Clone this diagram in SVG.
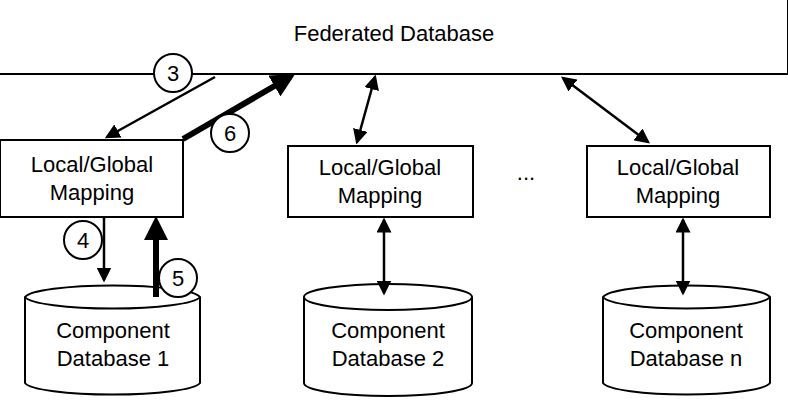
<svg xmlns="http://www.w3.org/2000/svg" width="788" height="401" viewBox="0 0 788 401">
<style>
text{font-family:"Liberation Sans",Arial,sans-serif;font-size:22px;fill:#000;text-anchor:middle}
.b{fill:#fff;stroke:#000;stroke-width:2}
.c{stroke:#000;stroke-width:2.5;fill:none}
.t{stroke:#000;stroke-width:6;fill:none}
.n{fill:#fff;stroke:#000;stroke-width:2}
</style>
<defs>
<marker id="a" markerWidth="6" markerHeight="6" refX="5" refY="3" orient="auto" markerUnits="strokeWidth"><path d="M0,0L6,3L0,6z"/></marker>
<marker id="as" markerWidth="6" markerHeight="6" refX="1" refY="3" orient="auto" markerUnits="strokeWidth"><path d="M6,0L0,3L6,6z"/></marker>
<marker id="at" markerWidth="4" markerHeight="4" refX="3" refY="2" orient="auto" markerUnits="strokeWidth"><path d="M0,0L4,2L0,4z"/></marker>
</defs>
<g id="federated"><rect class="b" x="-2" y="-2" width="790" height="76"/><text x="394" y="41">Federated Database</text></g>
<g id="map1"><rect class="b" x="0" y="140" width="183" height="77"/><text x="92" y="172">Local/Global</text><text x="92" y="200">Mapping</text></g>
<g id="map2"><rect class="b" x="288" y="146" width="185" height="71"/><text x="380" y="175">Local/Global</text><text x="380" y="203">Mapping</text></g>
<g id="mapn"><rect class="b" x="587" y="146" width="183" height="71"/><text x="678" y="175">Local/Global</text><text x="678" y="203">Mapping</text></g>
<g id="dots"><text x="526" y="180">...</text></g>
<g id="db1"><path class="b" d="M25,297 A88,13 0 0 1 200,297 V383 A88,13 0 0 1 25,383 Z"/><path class="b" d="M25,297 A88,13 0 0 0 200,297"/><text x="113" y="338">Component</text><text x="113" y="366">Database 1</text></g>
<g id="db2"><path class="b" d="M304,297 A84,13 0 0 1 472,297 V383 A84,13 0 0 1 304,383 Z"/><path class="b" d="M304,297 A84,13 0 0 0 472,297"/><text x="388" y="338">Component</text><text x="388" y="366">Database 2</text></g>
<g id="dbn"><path class="b" d="M603,297 A84,13 0 0 1 770,297 V383 A84,13 0 0 1 603,383 Z"/><path class="b" d="M603,297 A84,13 0 0 0 770,297"/><text x="686" y="338">Component</text><text x="686" y="366">Database n</text></g>
<g id="connectors">
<line class="c" x1="215" y1="77" x2="107" y2="137" marker-end="url(#a)"/>
<line class="t" x1="183" y1="139" x2="290" y2="77" marker-end="url(#at)"/>
<line class="c" x1="104" y1="218" x2="104" y2="280" marker-end="url(#a)"/>
<line class="t" x1="156" y1="297" x2="156" y2="222" marker-end="url(#at)"/>
<line class="c" x1="375" y1="77" x2="357" y2="142" marker-start="url(#as)" marker-end="url(#a)"/>
<line class="c" x1="563" y1="78" x2="648" y2="142" marker-start="url(#as)" marker-end="url(#a)"/>
<line class="c" x1="384" y1="220" x2="384" y2="293" marker-start="url(#as)" marker-end="url(#a)"/>
<line class="c" x1="683" y1="220" x2="683" y2="293" marker-start="url(#as)" marker-end="url(#a)"/>
</g>
<g id="labels">
<circle class="n" cx="173" cy="73" r="19"/><text x="173" y="81">3</text>
<circle class="n" cx="230" cy="133" r="19"/><text x="230" y="141">6</text>
<circle class="n" cx="83" cy="240" r="19"/><text x="83" y="248">4</text>
<circle class="n" cx="178" cy="278" r="19"/><text x="178" y="286">5</text>
</g>
</svg>
